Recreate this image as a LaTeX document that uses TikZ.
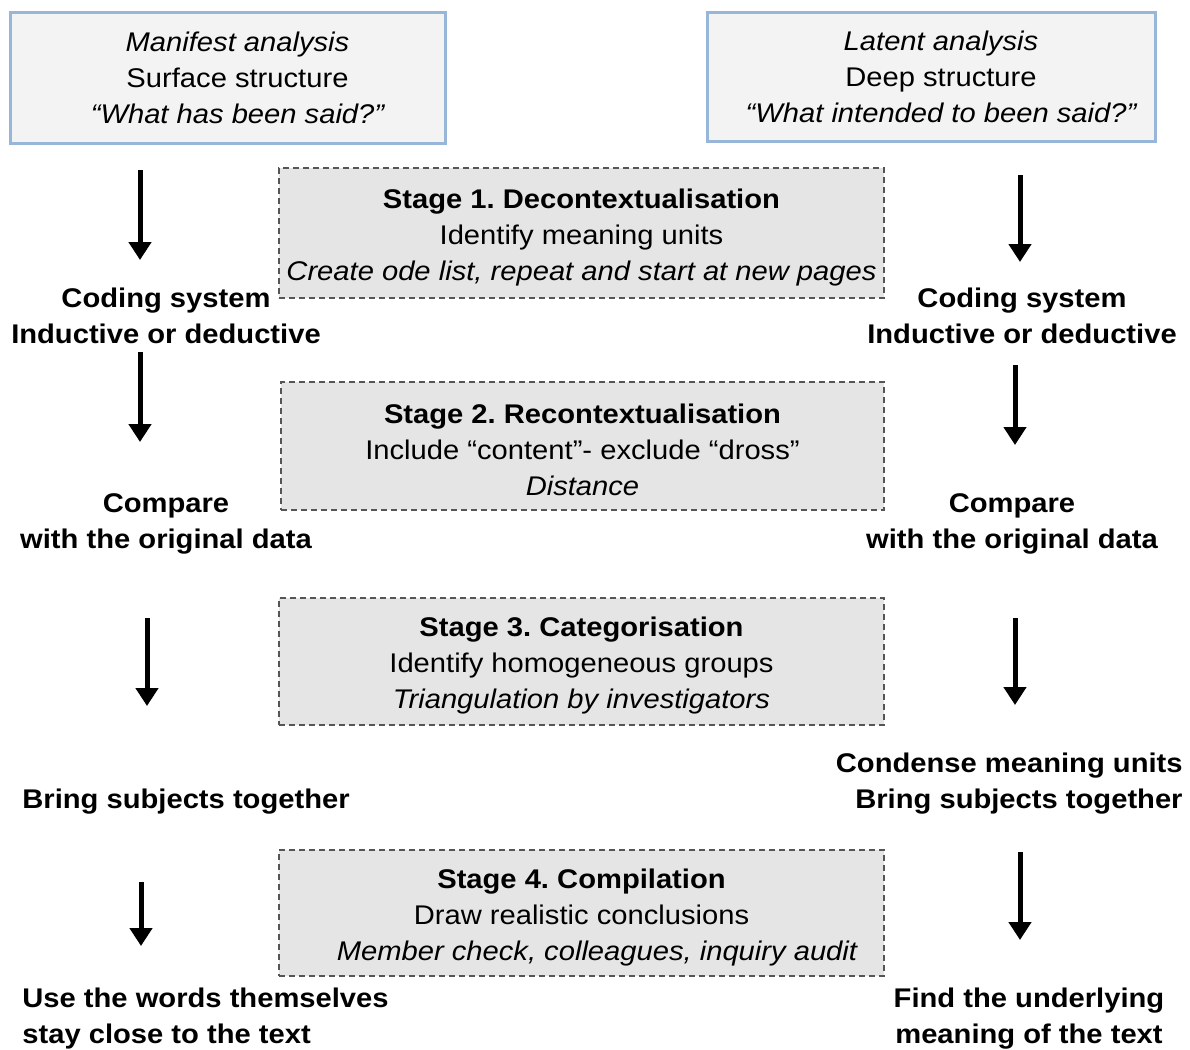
\documentclass[tikz,border=0pt]{standalone}
\usepackage{fontspec}
\setmainfont[FakeStretch=1.08]{Liberation Sans}
\usetikzlibrary{arrows.meta,positioning,calc}

\definecolor{boxblue}{RGB}{152,182,216}
\definecolor{topfill}{RGB}{243,243,243}
\definecolor{stagefill}{RGB}{229,229,229}
\definecolor{stageline}{RGB}{85,85,85}

\newcommand{\lift}{\rule{0pt}{14pt}}

\tikzset{
  txt/.style={font=\fontsize{13.5}{18}\selectfont, align=center, inner sep=0pt},
  lbl/.style={txt, font=\fontsize{13.5}{18}\selectfont\bfseries},
  topbox/.style={txt, draw=boxblue, line width=1.5pt, fill=topfill},
  stagebox/.style={txt, draw=stageline, line width=0.7pt, fill=stagefill,
    dash pattern=on 3pt off 2pt},
  bigarrow/.style={line width=2.5pt, -{Triangle[width=11pt,length=9pt]}}
}

\begin{document}
\frenchspacing
\begin{tikzpicture}[x=0.5pt, y=-0.5pt]
    \useasboundingbox (0,0) rectangle (1190,1050);

    % Top boxes
    \node[topbox, minimum width=217.5pt, minimum height=65.5pt] (manifest) at (227.5,77.5)
        {\hspace{10pt}\itshape Manifest analysis\\ \hspace{10pt}Surface structure\\ \hspace{10pt}\itshape ``What has been said?''};
    \node[topbox, minimum width=224pt, minimum height=64.5pt] (latent) at (931,76.5)
        {\hspace{10pt}\itshape Latent analysis\\ \hspace{10pt}Deep structure\\ \hspace{10pt}\itshape ``What intended to been said?''};

    % Stage boxes
    \node[stagebox, minimum width=302.5pt, minimum height=65pt] (stage1) at (581.5,233)
        {\lift\textbf{Stage 1. Decontextualisation}\\ Identify meaning units\\ \textit{Create ode list, repeat and start at new pages}};
    \node[stagebox, minimum width=301.5pt, minimum height=64pt] (stage2) at (582.5,446)
        {\lift\textbf{Stage 2. Recontextualisation}\\ Include ``content''- exclude ``dross''\\ \textit{Distance}};
    \node[stagebox, minimum width=302.5pt, minimum height=63.5pt] (stage3) at (581.5,661.5)
        {\lift\textbf{Stage 3. Categorisation}\\ Identify homogeneous groups\\ \textit{Triangulation by investigators}};
    \node[stagebox, minimum width=302.5pt, minimum height=63pt] (stage4) at (581.5,913)
        {\lift\textbf{Stage 4. Compilation}\\ Draw realistic conclusions\\ \hspace{16pt}\textit{Member check, colleagues, inquiry audit}};

    % Left column
    \node[lbl] (lcode) at (166,316) {Coding system\\Inductive or deductive};
    \node[lbl] (lcomp) at (166,524) {Compare\\with the original data};
    \node[lbl, anchor=west] (lbring) at (22,802) {Bring subjects together};
    \node[lbl, anchor=west, align=left] (lwords) at (22,1018.5) {Use the words themselves\\stay close to the text};

    % Right column
    \node[lbl] (rcode) at (1022,316) {Coding system\\Inductive or deductive};
    \node[lbl] (rcomp) at (1012,524) {Compare\\with the original data};
    \node[lbl, anchor=east, align=right] (rcond) at (1183,784) {Condense meaning units\\Bring subjects together};
    \node[lbl] (rfind) at (1029,1018.5) {Find the underlying\\meaning of the text};

    % Arrows
    \foreach \n/\x/\ya/\yb in {l1/140/170/260, l2/140/352/442, l3/147/618/706, l4/141/882/946,
                               r1/1020/175/262, r2/1015/365/445, r3/1015/618/705, r4/1020/852/940} {
        \coordinate (\n a) at (\x,\ya);
        \coordinate (\n b) at (\x,\yb);
        \draw[bigarrow] (\n a) -- (\n b);
    }
\end{tikzpicture}
\end{document}
